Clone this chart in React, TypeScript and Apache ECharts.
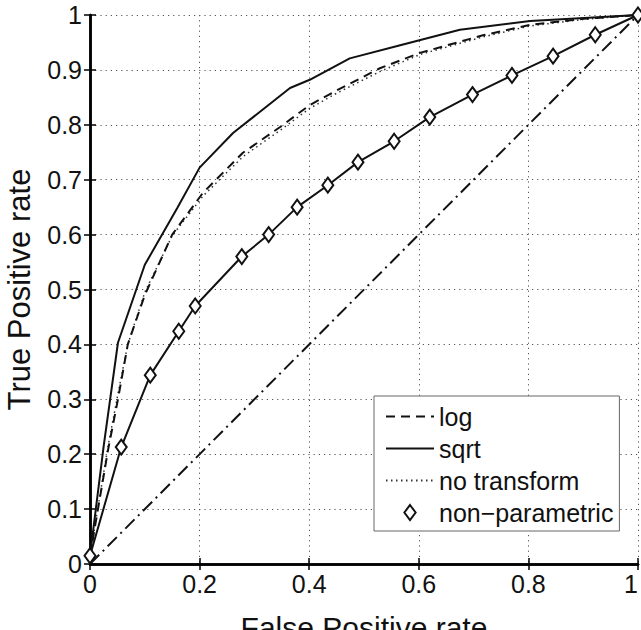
import React, { useEffect, useRef } from "react";
import * as echarts from "echarts";

const xTickLabels = ["0", "0.2", "0.4", "0.6", "0.8", "1"];
const yTickLabels = ["0", "0.1", "0.2", "0.3", "0.4", "0.5", "0.6", "0.7", "0.8", "0.9", "1"];

const legendNames = ["log", "sqrt", "no transform", "non−parametric"];

const logCurve: [number, number][] = [
  [0, 0.015], [0.033, 0.208], [0.051, 0.3], [0.069, 0.4], [0.1, 0.49], [0.15, 0.6],
  [0.206, 0.676], [0.279, 0.749], [0.347, 0.796], [0.401, 0.836], [0.451, 0.863],
  [0.529, 0.903], [0.602, 0.931], [0.717, 0.963], [0.803, 0.982], [0.9, 0.993], [1, 1],
];

const sqrtCurve: [number, number][] = [
  [0, 0.015], [0.025, 0.215], [0.051, 0.403], [0.1, 0.545], [0.159, 0.648], [0.2, 0.722],
  [0.261, 0.785], [0.365, 0.867], [0.401, 0.882], [0.474, 0.921], [0.566, 0.945],
  [0.675, 0.973], [0.803, 0.989], [1, 1],
];

const noTransformCurve: [number, number][] = [
  [0, 0.015], [0.033, 0.215], [0.051, 0.31], [0.069, 0.4], [0.1, 0.495], [0.15, 0.598],
  [0.206, 0.67], [0.279, 0.742], [0.347, 0.79], [0.401, 0.83], [0.451, 0.858],
  [0.529, 0.897], [0.602, 0.928], [0.717, 0.96], [0.803, 0.98], [0.9, 0.992], [1, 1],
];

const nonParametric: [number, number][] = [
  [0, 0.015], [0.057, 0.213], [0.11, 0.344], [0.162, 0.424], [0.192, 0.47], [0.277, 0.56],
  [0.326, 0.6], [0.378, 0.65], [0.434, 0.69], [0.489, 0.732], [0.555, 0.77], [0.62, 0.814],
  [0.698, 0.855], [0.77, 0.89], [0.845, 0.925], [0.922, 0.964], [1, 1],
];

const chanceLine: [number, number][] = [[0, 0], [1, 1]];

const FONT = "'Liberation Sans', Arial, Helvetica, sans-serif";
const DIAMOND_ICON = "path://M0,-1L0.75,0L0,1L-0.75,0Z";

export default function App() {
  const ref = useRef<HTMLDivElement>(null);
  useEffect(() => {
    if (!ref.current) return;
    const chart = echarts.init(ref.current, undefined, { renderer: "svg" });
    const fmtX = (v: number) => xTickLabels[Math.round(v / 0.2)] ?? "";
    const fmtY = (v: number) => yTickLabels[Math.round(v / 0.1)] ?? "";
    const axisLine = { show: true, lineStyle: { color: "#000", width: 2.5 } };
    const tick = { show: true, inside: true, length: 6, lineStyle: { color: "#000", width: 1.5 } };
    const grid = { show: true, lineStyle: { color: "#555", width: 1, type: [1.2, 4] as any } };
    const hiddenSymbol = { opacity: 0, color: "rgba(0,0,0,0)", borderWidth: 0 };
    chart.setOption({
      animation: false,
      backgroundColor: "#fff",
      textStyle: { fontFamily: FONT },
      grid: { left: 90, right: 3, top: 15, bottom: 66, containLabel: false, outerBoundsMode: "none" },
      xAxis: [
        {
          type: "value", min: 0, max: 1, interval: 0.2, position: "bottom",
          axisLine, axisTick: tick, splitLine: grid,
          axisLabel: {
            formatter: fmtX, color: "#111", fontSize: 25, fontFamily: FONT, margin: 7,
            alignMaxLabel: "right",
          },
          name: "False Positive rate", nameLocation: "middle", nameGap: 48,
          nameMoveOverlap: false,
          nameTextStyle: { fontSize: 30, lineHeight: 30, color: "#111", fontFamily: FONT },
        },
        {
          type: "value", min: 0, max: 1, interval: 0.2, position: "top",
          axisLine, axisTick: tick, splitLine: { show: false }, axisLabel: { show: false },
        },
      ],
      yAxis: [
        {
          type: "value", min: 0, max: 1, interval: 0.1, position: "left",
          axisLine, axisTick: tick, splitLine: grid,
          axisLabel: { formatter: fmtY, color: "#111", fontSize: 25, fontFamily: FONT, margin: 8 },
          name: "True Positive rate", nameLocation: "middle", nameGap: 55,
          nameTextStyle: { fontSize: 31, color: "#111", fontFamily: FONT },
        },
        {
          type: "value", min: 0, max: 1, interval: 0.1, position: "right",
          axisLine, axisTick: tick, splitLine: { show: false }, axisLabel: { show: false },
        },
      ],
      legend: {
        data: [
          { name: legendNames[0], itemStyle: hiddenSymbol },
          { name: legendNames[1], itemStyle: hiddenSymbol },
          { name: legendNames[2], itemStyle: hiddenSymbol },
          { name: legendNames[3], icon: DIAMOND_ICON },
        ],
        orient: "vertical",
        left: 374,
        top: 396,
        padding: [8, 6, 6, 11],
        itemWidth: 48,
        itemHeight: 15,
        itemGap: 7,
        symbolKeepAspect: true,
        backgroundColor: "#fff",
        borderColor: "#666",
        borderWidth: 1,
        borderRadius: 0,
        selectedMode: false,
        textStyle: { fontSize: 25, color: "#111", fontFamily: FONT },
      },
      series: [
        {
          name: "chance", type: "line", data: chanceLine, symbol: "none",
          lineStyle: { color: "#111", width: 2, type: [13, 5, 2, 5] },
          z: 1,
        },
        {
          name: legendNames[2], type: "line", data: noTransformCurve, symbol: "none",
          lineStyle: { color: "#333", width: 1.5, type: [1.5, 3.5] },
          z: 2,
        },
        {
          name: legendNames[0], type: "line", data: logCurve, symbol: "none",
          lineStyle: { color: "#111", width: 2, type: [9, 6] },
          z: 3,
        },
        {
          name: legendNames[1], type: "line", data: sqrtCurve, symbol: "none",
          lineStyle: { color: "#111", width: 2 },
          z: 3,
        },
        {
          name: "nonparam-line", type: "line", data: nonParametric, symbol: "none",
          lineStyle: { color: "#111", width: 2 },
          z: 3,
        },
        {
          name: legendNames[3], type: "scatter", data: nonParametric,
          symbol: "diamond", symbolSize: [11, 15],
          itemStyle: { color: "#fff", borderColor: "#111", borderWidth: 2, opacity: 1 },
          z: 4,
        },
      ],
    });
    return () => chart.dispose();
  }, []);
  return (
    <div
      ref={ref}
      style={{ position: "fixed", left: 0, top: 0, width: 641, height: 630, background: "#fff" }}
    />
  );
}
